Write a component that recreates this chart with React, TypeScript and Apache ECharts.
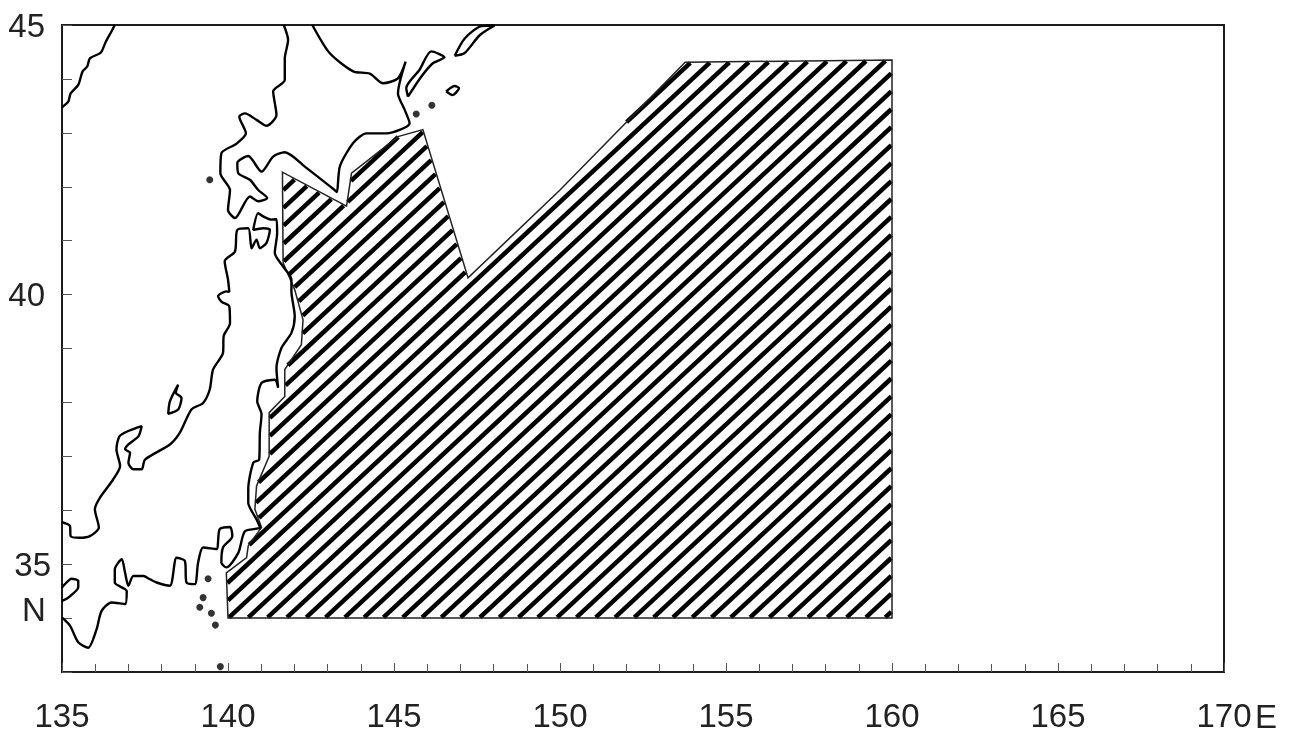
import React, { useEffect, useRef } from "react";
import * as echarts from "echarts";

type P = [number, number];

const russiaCoast: P[] = [[136.59,45],[136.49,44.88],[136.32,44.69],[136.17,44.49],[135.84,44.38],[135.76,44.23],[135.62,44.14],[135.49,43.89],[135.26,43.73],[135.19,43.58],[135.02,43.48],[135,43.46]];
const hokkaidoCoast: P[] = [[141.68,45],[141.81,44.72],[141.71,44.38],[141.71,43.98],[141.36,43.77],[141.46,43.33],[141.16,43.13],[140.86,43.24],[140.51,43.36],[140.34,43.30],[140.54,42.99],[140.26,42.80],[139.80,42.62],[139.77,42.25],[140.06,41.94],[140.00,41.57],[140.21,41.42],[140.66,41.82],[140.91,41.73],[141.18,41.79],[140.91,41.94],[140.66,42.13],[140.31,42.25],[140.28,42.44],[140.61,42.57],[141.01,42.28],[141.36,42.56],[141.71,42.64],[142.36,42.35],[143.21,41.94],[143.28,41.90],[143.37,42.38],[143.77,42.81],[144.17,42.99],[144.77,42.99],[145.47,43.18],[145.32,43.43],[145.12,43.73],[145.35,44.32],[145.12,44.01],[144.67,43.92],[144.27,44.10],[143.77,44.14],[143.06,44.48],[142.54,45]];
const honshuCoast: P[] = [[135,35.78],[135.04,35.77],[135.24,35.71],[135.26,35.52],[135.54,35.49],[135.84,35.52],[136.11,35.68],[135.99,36.02],[136.14,36.23],[136.54,36.57],[136.75,36.82],[136.64,37.13],[136.73,37.37],[137.00,37.47],[137.40,37.56],[137.30,37.37],[137.00,37.22],[136.90,37.13],[137.05,37.07],[137.00,36.88],[137.15,36.76],[137.40,36.76],[137.50,36.94],[138.25,37.22],[138.55,37.44],[138.90,37.87],[139.25,37.99],[139.45,38.24],[139.55,38.61],[139.85,38.92],[139.87,39.23],[140.06,39.47],[140.04,39.78],[139.80,39.87],[139.70,39.97],[139.95,40.06],[140.04,40.05],[140.00,40.28],[139.90,40.62],[140.21,40.80],[140.28,41.20],[140.61,41.23],[140.71,40.86],[140.86,41.02],[140.96,40.86],[141.16,40.96],[141.26,41.20],[141.06,41.23],[140.76,41.20],[140.91,41.51],[141.06,41.45],[141.31,41.39],[141.46,41.40],[141.48,41.14],[141.41,40.77],[141.66,40.52],[141.91,40.28],[141.91,40.06],[142.01,39.60],[141.91,39.29],[141.61,39.01],[141.46,38.64],[141.51,38.27],[141.41,38.42],[141.01,38.36],[140.88,38.02],[141.01,37.78],[140.96,37.44],[140.94,36.94],[140.76,36.88],[140.61,36.39],[140.61,36.14],[140.86,35.83],[140.96,35.68],[140.51,35.61],[140.31,35.21],[139.95,34.94],[139.80,35.03],[139.85,35.31],[140.13,35.52],[140.06,35.69],[139.75,35.65],[139.65,35.28],[139.25,35.31],[139.10,35.03],[139.00,34.63],[138.75,34.66],[138.70,35.06],[138.45,35.12],[138.25,34.60],[137.85,34.66],[137.65,34.72],[137.45,34.78],[137.15,34.78],[137.00,34.60],[136.90,34.84],[136.80,35.09],[136.59,34.90],[136.59,34.66],[136.95,34.50],[136.90,34.26],[136.49,34.29],[136.19,34.13],[136.04,33.79],[135.79,33.45],[135.49,33.55],[135.24,33.86],[135,34.01]];
const awajiCoast: P[] = [[135,34.32],[135.19,34.38],[135.49,34.57],[135.49,34.69],[135.29,34.73],[135.04,34.60],[135,34.56]];
const sadoCoast: P[] = [[138.50,38.33],[138.25,38.02],[138.20,37.79],[138.50,37.87],[138.60,38.08],[138.43,38.18],[138.50,38.33]];
const kunashiriCoast: P[] = [[145.42,43.67],[145.37,43.83],[145.77,44.17],[146.12,44.51],[146.52,44.40],[146.17,44.29],[145.82,44.04],[145.42,43.67]];
const etorofuCoast: P[] = [[146.83,44.43],[147.13,44.75],[147.63,44.98],[148.03,44.99],[147.58,44.81],[147.13,44.48],[146.83,44.43]];
const shikotanCoast: P[] = [[146.57,43.77],[146.83,43.87],[146.96,43.83],[146.76,43.70],[146.57,43.77]];
const smallIslands: P[] = [[146.14,43.51],[145.67,43.35],[139.45,42.13],[139.40,34.73],[139.25,34.38],[139.15,34.20],[139.50,34.09],[139.62,33.87],[139.77,33.10]];

const hatchedArea: P[] = [[140,34],[160,34],[160,44.35],[153.77,44.31],[150,41.94],[147.23,40.31],[145.87,43.06],[145.12,42.93],[143.72,42.25],[143.57,41.64],[141.64,42.27],[141.66,40.59],[142.01,40.09],[142.26,39.53],[142.21,39.07],[141.71,38.61],[141.71,38.11],[141.24,37.81],[141.24,37.0],[140.86,36.45],[140.81,36.02],[141.01,35.68],[140.61,35.34],[140.56,35.12],[139.95,34.84]];

const coasts: P[][] = [russiaCoast, hokkaidoCoast, honshuCoast, awajiCoast, sadoCoast, kunashiriCoast, etorofuCoast, shikotanCoast];

const xTicks = [135, 140, 145, 150, 155, 160, 165, 170];
const yTickLabels = [35, 40, 45];

const FONT = "'Liberation Sans', Arial, sans-serif";
const INK = "#1c1c1c";
const HATCH_STEP = 19.3;
const HATCH_SLOPE = 0.93;
const HATCH_WIDTH = 4.5;

function renderHatch(params: any, api: any) {
  if (params.dataIndex !== 0) return null;
  const pts = hatchedArea.map((p) => api.coord(p) as number[]);
  const xs = pts.map((p) => p[0]);
  const ys = pts.map((p) => p[1]);
  const yb = Math.max(...ys);
  const xa = Math.min(...xs) + 2;
  const xb = Math.max(...xs);
  const span = (yb - Math.min(...ys)) / HATCH_SLOPE;
  const children: any[] = [];
  const kMin = Math.floor(-span / HATCH_STEP) - 1;
  const kMax = Math.ceil((xb - xa) / HATCH_STEP) + 1;
  for (let k = kMin; k <= kMax; k++) {
    const x0 = xa + k * HATCH_STEP;
    const hits: number[][] = [];
    for (let i = 0; i < pts.length; i++) {
      const a = pts[i];
      const b = pts[(i + 1) % pts.length];
      const ga = HATCH_SLOPE * (a[0] - x0) + (a[1] - yb);
      const gb = HATCH_SLOPE * (b[0] - x0) + (b[1] - yb);
      if ((ga < 0 && gb >= 0) || (ga >= 0 && gb < 0)) {
        const t = ga / (ga - gb);
        hits.push([a[0] + t * (b[0] - a[0]), a[1] + t * (b[1] - a[1])]);
      }
    }
    hits.sort((m, n) => m[0] - n[0]);
    for (let j = 0; j + 1 < hits.length; j += 2) {
      const [x1, y1] = hits[j];
      const [x2, y2] = hits[j + 1];
      const len = Math.hypot(x2 - x1, y2 - y1);
      if (len < 3) continue;
      const ux = (x2 - x1) / len;
      const uy = (y2 - y1) / len;
      children.push({
        type: "line",
        shape: { x1: x1 + ux, y1: y1 + uy, x2: x2 - ux, y2: y2 - uy },
        style: { stroke: "#000", lineWidth: HATCH_WIDTH, fill: null },
        silent: true,
      });
    }
  }
  children.push({
    type: "polygon",
    shape: { points: pts },
    style: { fill: "none", stroke: "#222", lineWidth: 1.5 },
    silent: true,
  });
  return { type: "group", children };
}

export default function App() {
  const ref = useRef<HTMLDivElement>(null);
  useEffect(() => {
    const chart = echarts.init(ref.current!, undefined, { renderer: "svg" });
    chart.setOption({
      animation: false,
      backgroundColor: "#fff",
      grid: { left: 62, top: 25, width: 1162, height: 647, show: true, borderColor: INK, borderWidth: 2, backgroundColor: "transparent" },
      xAxis: {
        type: "value",
        min: xTicks[0],
        max: xTicks[xTicks.length - 1],
        interval: 5,
        splitLine: { show: false },
        axisLine: { lineStyle: { color: INK, width: 2 } },
        axisTick: { inside: true, length: 9, lineStyle: { color: "#555", width: 1 } },
        minorTick: { show: true, splitNumber: 5, length: 8, lineStyle: { color: "#555", width: 1 } },
        axisLabel: { margin: 27, fontSize: 33, color: "#222", fontFamily: FONT },
      },
      yAxis: {
        type: "value",
        min: 33,
        max: 45,
        interval: 1,
        splitLine: { show: false },
        axisLine: { lineStyle: { color: INK, width: 2 } },
        axisTick: { inside: true, length: 10, lineStyle: { color: "#555", width: 1 } },
        axisLabel: {
          margin: 11,
          color: "#222",
          fontFamily: FONT,
          fontSize: 33,
          formatter: (v: number) => (yTickLabels.includes(v) ? (v === 35 ? `{near|${v}}` : `{far|${v}}`) : ""),
          rich: {
            near: { fontSize: 33, color: "#222", fontFamily: FONT },
            far: { fontSize: 33, color: "#222", fontFamily: FONT, padding: [0, 6, 0, 0] },
          },
        },
      },
      graphic: [
        { type: "text", x: 1255, y: 716, style: { text: "E", font: `33px ${FONT}`, fill: "#222", verticalAlign: "middle" } },
        { type: "text", x: 22, y: 609, style: { text: "N", font: `33px ${FONT}`, fill: "#222", verticalAlign: "middle" } },
      ],
      series: [
        {
          type: "custom",
          name: "hatched",
          coordinateSystem: "cartesian2d",
          data: hatchedArea,
          renderItem: renderHatch,
          silent: true,
          z: 2,
        },
        ...coasts.map((c, i) => ({
          type: "line",
          name: `coast${i}`,
          data: c,
          showSymbol: false,
          symbol: "none",
          smooth: 0.25,
          silent: true,
          lineStyle: { color: "#000", width: 2.4 },
          z: 3,
        })),
        {
          type: "scatter",
          name: "islands",
          data: smallIslands,
          symbolSize: 7,
          silent: true,
          itemStyle: { color: "#000" },
          z: 3,
        },
      ],
    });
    return () => chart.dispose();
  }, []);
  return (
    <div
      ref={ref}
      style={{ position: "absolute", left: 0, top: 0, width: 1292, height: 733, filter: "blur(0.5px)" }}
    />
  );
}
